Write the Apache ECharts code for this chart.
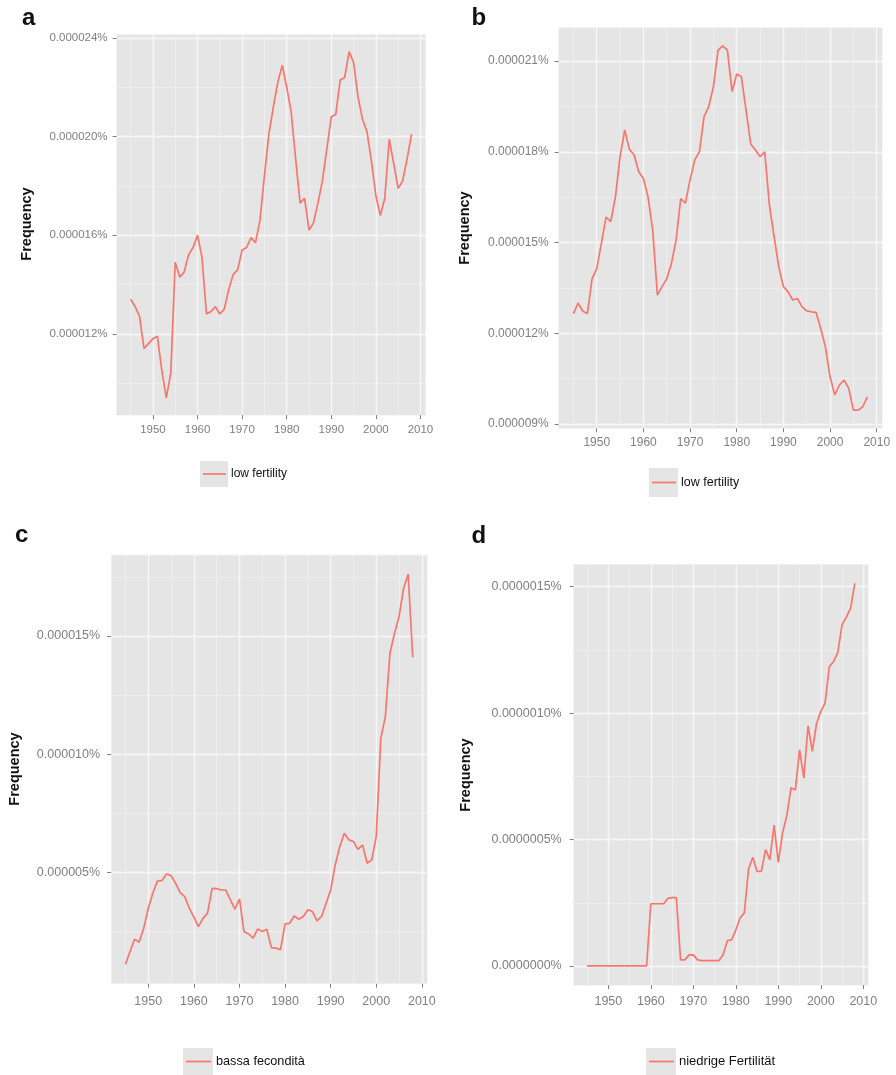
<!DOCTYPE html>
<html>
<head>
<meta charset="utf-8">
<script src="https://cdn.jsdelivr.net/npm/echarts@6/dist/echarts.min.js"></script>
<style>
html,body{margin:0;padding:0;background:#fff;}
#chart{width:896px;height:1075px;}
</style>
</head>
<body>
<div id="chart"></div>
<script>
// Years (x axis)
const years = [1945,1946,1947,1948,1949,1950,1951,1952,1953,1954,
  1955,1956,1957,1958,1959,1960,1961,1962,1963,1964,
  1965,1966,1967,1968,1969,1970,1971,1972,1973,1974,
  1975,1976,1977,1978,1979,1980,1981,1982,1983,1984,
  1985,1986,1987,1988,1989,1990,1991,1992,1993,1994,
  1995,1996,1997,1998,1999,2000,2001,2002,2003,2004,
  2005,2006,2007,2008];

// Frequencies in units of 0.000001 %
const panelA = [13.4,13.1,12.7,11.4,11.6,11.8,11.9,10.5,9.4,10.4,
  14.9,14.3,14.5,15.2,15.5,16.0,15.1,12.8,12.9,13.1,
  12.8,13.0,13.8,14.4,14.6,15.4,15.5,15.9,15.7,16.6,
  18.4,20.1,21.2,22.2,22.9,22.0,21.0,19.1,17.3,17.5,
  16.2,16.5,17.3,18.2,19.5,20.8,20.9,22.3,22.4,23.45,
  23.0,21.6,20.7,20.2,19.0,17.6,16.8,17.5,19.9,18.9,
  17.9,18.2,19.1,20.1];

const panelB = [12.65,13.0,12.73,12.65,13.8,14.14,14.97,15.84,15.69,16.5,
  17.84,18.72,18.08,17.9,17.34,17.12,16.5,15.4,13.26,13.54,
  13.8,14.3,15.08,16.45,16.3,17.07,17.73,18.0,19.16,19.5,
  20.15,21.36,21.5,21.36,19.99,20.57,20.48,19.38,18.26,18.06,
  17.84,18.0,16.24,15.2,14.2,13.54,13.37,13.1,13.15,12.87,
  12.74,12.71,12.69,12.16,11.55,10.56,9.96,10.29,10.45,10.18,
  9.46,9.46,9.57,9.9];

const panelC = [1.11,1.65,2.17,2.04,2.63,3.48,4.11,4.63,4.65,4.93,
  4.86,4.53,4.14,3.97,3.48,3.1,2.7,3.05,3.27,4.32,
  4.31,4.25,4.25,3.83,3.44,3.87,2.49,2.39,2.21,2.6,
  2.49,2.59,1.81,1.79,1.72,2.82,2.84,3.15,3.01,3.13,
  3.41,3.34,2.94,3.13,3.69,4.25,5.31,6.09,6.65,6.37,
  6.3,5.97,6.16,5.38,5.52,6.51,10.67,11.59,14.27,15.11,
  15.82,17.02,17.61,14.1];

const panelD = [0,0,0,0,0,0,0,0,0,0,
  0,0,0,0,0,0.246,0.246,0.246,0.246,0.267,
  0.27,0.27,0.024,0.024,0.044,0.044,0.024,0.021,0.021,0.021,
  0.021,0.021,0.044,0.1,0.103,0.143,0.19,0.21,0.384,0.43,
  0.374,0.374,0.46,0.42,0.557,0.41,0.526,0.595,0.705,0.696,
  0.855,0.743,0.95,0.849,0.96,1.007,1.04,1.184,1.204,1.24,
  1.35,1.38,1.414,1.513];

const panelLabels = ['a','b','c','d'];
const seriesNames = ['low fertility','low fertility','bassa fecondità','niedrige Fertilität'];
const xTickLabels = [1950,1960,1970,1980,1990,2000,2010];
const yTicksA = [12,16,20,24];
const yTicksB = [9,12,15,18,21];
const yTicksC = [5,10,15];
const yTicksD = [0,0.5,1.0,1.5];

const FONT = '"Liberation Sans", Arial, Helvetica, sans-serif';
const RED = '#F8766D';
const BG = '#E5E5E5';
const TXT = '#808080';

// layout per panel
const panels = [
  {data: panelA, ticks: yTicksA, major: 4, minor: 2, dec: 6, ymin: 8.7, ymax: 24.15,
   grid: {left: 116.6, top: 34.3, width: 309, height: 380.8}, fs: 11.5, ym: 9, xm: 9,
   label: [22, 18.5], title: [27, 224],
   leg: {x: 200, y: 461, w: 28, h: 26, fs: 12}},
  {data: panelB, ticks: yTicksB, major: 3, minor: 1.5, dec: 6, ymin: 8.858, ymax: 22.102,
   grid: {left: 558.7, top: 27.7, width: 323.4, height: 400.6}, fs: 12, ym: 10, xm: 8,
   label: [471.5, 18.5], title: [465, 228],
   leg: {x: 649, y: 468, w: 29, h: 29, fs: 12.5}},
  {data: panelC, ticks: yTicksC, major: 5, minor: 2.5, dec: 6, ymin: 0.285, ymax: 18.435,
   grid: {left: 111.1, top: 554.8, width: 316, height: 428.9}, fs: 12.5, ym: 11, xm: 11,
   label: [15, 535], title: [15, 769],
   leg: {x: 183, y: 1048, w: 30, h: 27, fs: 12.7}},
  {data: panelD, ticks: yTicksD, major: 0.5, minor: 0.25, dec: 7, ymin: -0.0757, ymax: 1.5887,
   grid: {left: 573.7, top: 564.3, width: 294.5, height: 420.8}, fs: 12.5, ym: 12, xm: 10,
   label: [471.5, 536.5], title: [466, 775],
   leg: {x: 646, y: 1048, w: 30, h: 27, fs: 13}}
];

const XMIN = 1941.85, XMAX = 2011.15;

const grids = [], xAxes = [], yAxes = [], series = [], legends = [], graphics = [];
function fmtY(v, dec) { return (Math.abs(v) < 1e-9 ? 0 : v / 1e6).toFixed(dec) + '%'; }

panels.forEach((p, i) => {
  grids.push(Object.assign({show: true, backgroundColor: BG, borderWidth: 0, containLabel: false}, p.grid));
  // major x
  xAxes.push({
    type: 'value', gridIndex: i, min: XMIN, max: XMAX, minInterval: 10, maxInterval: 10, splitNumber: 7,
    position: 'bottom',
    axisLine: {show: false, onZero: false},
    axisTick: {show: true, length: 4, customValues: xTickLabels, lineStyle: {color: TXT, width: 1}},
    axisLabel: {show: true, color: TXT, fontSize: p.fs, fontFamily: FONT, margin: p.xm,
      customValues: xTickLabels, formatter: v => String(Math.round(v))},
    splitLine: {show: true, lineStyle: {color: '#FFFFFF', width: 1.4}}
  });
  // minor x
  xAxes.push({
    type: 'value', gridIndex: i, min: XMIN, max: XMAX, minInterval: 5, maxInterval: 5, splitNumber: 14,
    position: 'top',
    axisLine: {show: false, onZero: false}, axisTick: {show: false}, axisLabel: {show: false},
    splitLine: {show: true, lineStyle: {color: '#F2F2F2', width: 0.7}}
  });
  // major y
  yAxes.push({
    type: 'value', gridIndex: i, min: p.ymin, max: p.ymax, minInterval: p.major, maxInterval: p.major,
    splitNumber: 4, position: 'left',
    axisLine: {show: false, onZero: false},
    axisTick: {show: true, length: 4, customValues: p.ticks, lineStyle: {color: TXT, width: 1}},
    axisLabel: {show: true, color: TXT, fontSize: p.fs, fontFamily: FONT, margin: p.ym,
      customValues: p.ticks, formatter: v => fmtY(v, p.dec)},
    splitLine: {show: true, lineStyle: {color: '#FFFFFF', width: 1.4}}
  });
  // minor y
  yAxes.push({
    type: 'value', gridIndex: i, min: p.ymin, max: p.ymax, minInterval: p.minor, maxInterval: p.minor,
    splitNumber: 8, position: 'right',
    axisLine: {show: false, onZero: false}, axisTick: {show: false}, axisLabel: {show: false},
    splitLine: {show: true, lineStyle: {color: '#F2F2F2', width: 0.7}}
  });
  series.push({
    name: seriesNames[i], type: 'line', xAxisIndex: 2 * i, yAxisIndex: 2 * i,
    data: years.map((y, k) => [y, p.data[k]]),
    symbol: 'none', showSymbol: false, smooth: false,
    lineStyle: {color: RED, width: 1.7}, itemStyle: {color: RED},
    emphasis: {disabled: true}, silent: true, animation: false, z: 5
  });
  const cy = p.leg.y + p.leg.h / 2;
  legends.push({
    data: [seriesNames[i]], left: p.leg.x + 3, top: cy - 7, padding: 0,
    icon: 'rect', itemWidth: p.leg.w - 5, itemHeight: 1.7, itemGap: 0,
    itemStyle: {color: RED},
    textStyle: {color: '#111', fontSize: p.leg.fs, fontFamily: FONT, lineHeight: 14, height: 14},
    selectedMode: false
  });
  graphics.push({type: 'rect', shape: {x: p.leg.x, y: p.leg.y, width: p.leg.w, height: p.leg.h},
    style: {fill: BG}, z: 0, silent: true});
  graphics.push({type: 'text', x: p.label[0], y: p.label[1],
    style: {text: panelLabels[i], fill: '#111', font: 'bold 24px ' + FONT, textAlign: 'left', textVerticalAlign: 'middle'}, z: 10});
  graphics.push({type: 'text', x: p.title[0], y: p.title[1], rotation: Math.PI / 2,
    style: {text: 'Frequency', fill: '#111', font: 'bold 14.5px ' + FONT, textAlign: 'center', textVerticalAlign: 'middle'}, z: 10});
});

const chart = echarts.init(document.getElementById('chart'), null, {renderer: 'canvas'});
chart.setOption({
  animation: false,
  backgroundColor: '#FFFFFF',
  textStyle: {fontFamily: FONT},
  grid: grids, xAxis: xAxes, yAxis: yAxes, series: series, legend: legends,
  graphic: graphics
});
</script>
</body>
</html>
